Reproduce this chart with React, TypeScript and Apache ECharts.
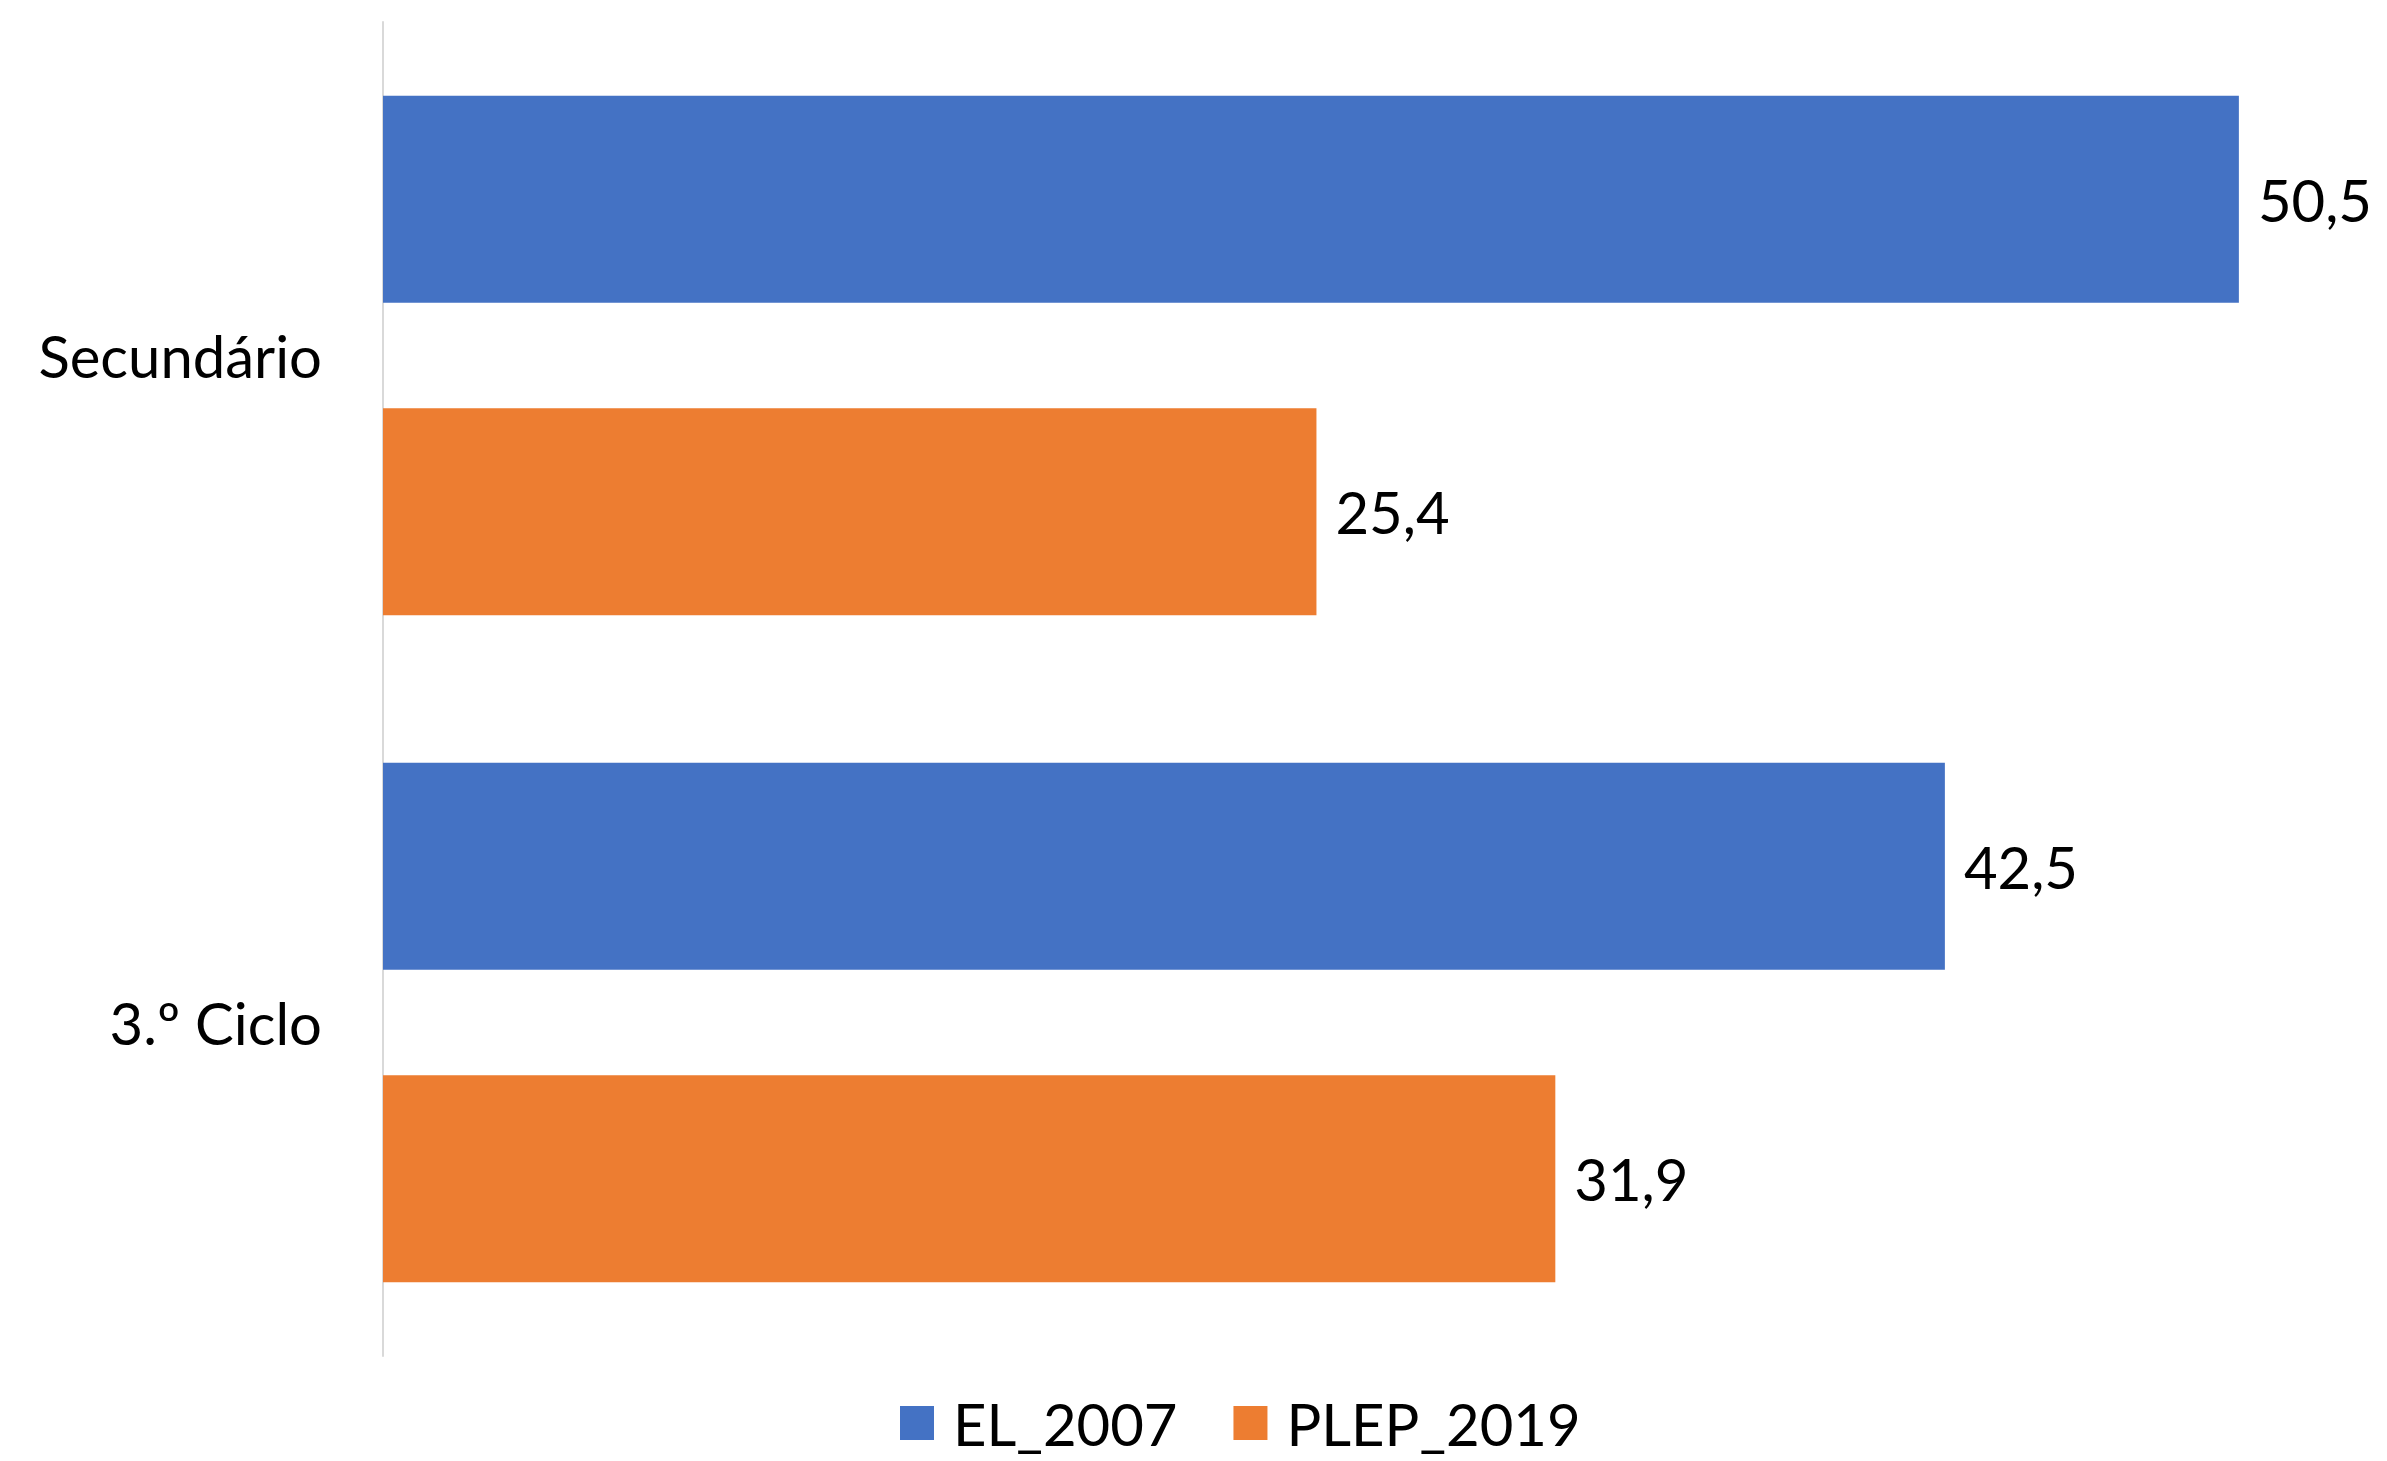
import React, { useEffect, useRef } from "react";
import * as echarts from "echarts";

const categories = ["Secundário", "3.º Ciclo"];
const seriesNames = ["EL_2007", "PLEP_2019"];
const el2007 = [50.5, 42.5];
const plep2019 = [25.4, 31.9];
const colors = ["#4472C4", "#ED7D31"];

const FONT = "Lato";
const FS = 58;

export default function App() {
  const ref = useRef<HTMLDivElement>(null);
  useEffect(() => {
    document.body.style.margin = "0";
    const chart = echarts.init(ref.current!, undefined, { renderer: "svg" });
    const fmt = (p: any) => String(p.value).replace(".", ",");
    chart.setOption({
      animation: false,
      backgroundColor: "#ffffff",
      textStyle: { fontFamily: FONT },
      grid: { left: 383, top: 22, height: 1334, width: 1984.5, containLabel: false },
      xAxis: {
        type: "value",
        min: 0,
        max: 54,
        show: false,
        splitLine: { show: false },
      },
      yAxis: {
        type: "category",
        data: categories,
        inverse: true,
        axisLine: { show: true, lineStyle: { color: "#d9d9d9", width: 2 } },
        axisTick: { show: false },
        axisLabel: { color: "#000", fontSize: FS, fontFamily: FONT, margin: 61 },
      },
      legend: {
        data: seriesNames,
        top: 1394,
        left: 900,
        padding: 0,
        itemWidth: 34,
        itemHeight: 34,
        itemGap: 56,
        icon: "rect",
        textStyle: { color: "#000", fontSize: FS, fontFamily: FONT, lineHeight: 56, padding: [0, 0, 0, 14] },
      },
      series: [
        {
          name: seriesNames[0],
          type: "bar",
          data: el2007,
          barWidth: 207,
          barGap: "51%",
          itemStyle: { color: colors[0] },
          label: { show: true, position: "right", distance: 19, color: "#000", fontSize: FS, fontFamily: FONT, formatter: fmt },
        },
        {
          name: seriesNames[1],
          type: "bar",
          data: plep2019,
          barWidth: 207,
          barGap: "51%",
          itemStyle: { color: colors[1] },
          label: { show: true, position: "right", distance: 19, color: "#000", fontSize: FS, fontFamily: FONT, formatter: fmt },
        },
      ],
    });
    return () => chart.dispose();
  }, []);
  return <div ref={ref} style={{ width: 2387, height: 1461 }} />;
}
